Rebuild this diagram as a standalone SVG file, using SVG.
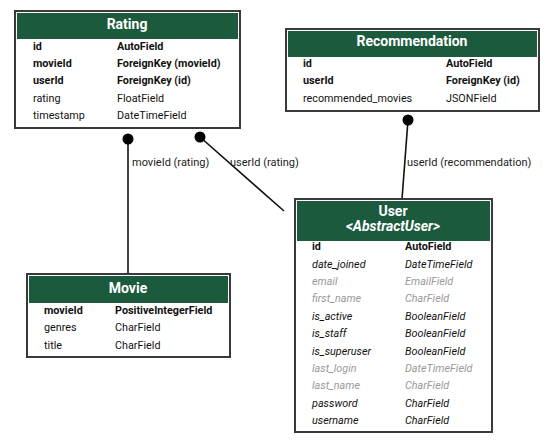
<svg xmlns="http://www.w3.org/2000/svg" width="555" height="443" viewBox="0 0 555 443">
<style>
.box{fill:#fff;stroke:#3a3a3a;stroke-width:2}
.hd{fill:#1c5a3e}
.ttl{font-family:Roboto,"Liberation Sans",sans-serif;font-size:14px;font-weight:bold;fill:#fff;text-anchor:middle}
.t{font-family:Roboto,"Liberation Sans",sans-serif;font-size:10.8px;fill:#111}
.b{font-weight:bold}
.i{font-style:italic}
.g{fill:#999}
.lbl{font-family:Roboto,"Liberation Sans",sans-serif;font-size:11px;fill:#222}
.ln{stroke:#111;stroke-width:1.6;fill:none}
</style>
<g id="connectors">
<line class="ln" x1="128" y1="139" x2="128" y2="273"/>
<circle cx="128" cy="139" r="5.5" fill="#000"/>
<text class="lbl" x="132" y="166">movieId (rating)</text>
<line class="ln" x1="200" y1="137" x2="284" y2="211"/>
<circle cx="200" cy="137" r="5.5" fill="#000"/>
<text class="lbl" x="230" y="166">userId (rating)</text>
<line class="ln" x1="408" y1="120" x2="402" y2="199"/>
<circle cx="408" cy="120" r="5.5" fill="#000"/>
<text class="lbl" x="407" y="166">userId (recommendation)</text>
</g>
<g id="Rating">
<rect class="box" x="15" y="11" width="225" height="117"/>
<rect class="hd" x="17" y="13" width="221" height="26"/>
<text class="ttl" x="127" y="29">Rating</text>
<text class="t b" x="33" y="50">id</text><text class="t b" x="117" y="50">AutoField</text>
<text class="t b" x="33" y="67">movieId</text><text class="t b" x="117" y="67">ForeignKey (movieId)</text>
<text class="t b" x="33" y="84">userId</text><text class="t b" x="117" y="84">ForeignKey (id)</text>
<text class="t" x="33" y="102">rating</text><text class="t" x="117" y="102">FloatField</text>
<text class="t" x="33" y="119">timestamp</text><text class="t" x="117" y="119">DateTimeField</text>
</g>
<g id="Recommendation">
<rect class="box" x="286" y="29" width="253" height="82"/>
<rect class="hd" x="288" y="31" width="249" height="26"/>
<text class="ttl" x="412" y="46">Recommendation</text>
<text class="t b" x="303" y="67">id</text><text class="t b" x="446" y="67">AutoField</text>
<text class="t b" x="303" y="84">userId</text><text class="t b" x="446" y="84">ForeignKey (id)</text>
<text class="t" x="303" y="102">recommended_movies</text><text class="t" x="446" y="102">JSONField</text>
</g>
<g id="Movie">
<rect class="box" x="27" y="274" width="203" height="83"/>
<rect class="hd" x="29" y="276" width="199" height="27"/>
<text class="ttl" x="128" y="293">Movie</text>
<text class="t b" x="44" y="314">movieId</text><text class="t b" x="115" y="314">PositiveIntegerField</text>
<text class="t" x="44" y="331">genres</text><text class="t" x="115" y="331">CharField</text>
<text class="t" x="44" y="349">title</text><text class="t" x="115" y="349">CharField</text>
</g>
<g id="User">
<rect class="box" x="295" y="199" width="197" height="233"/>
<rect class="hd" x="297" y="201" width="193" height="40"/>
<text class="ttl" x="393" y="216">User</text>
<text class="ttl i" x="393" y="231">&lt;AbstractUser&gt;</text>
<text class="t b" x="312" y="250">id</text><text class="t b" x="405" y="250">AutoField</text>
<text class="t i" x="312" y="268">date_joined</text><text class="t i" x="405" y="268">DateTimeField</text>
<text class="t i g" x="312" y="285">email</text><text class="t i g" x="405" y="285">EmailField</text>
<text class="t i g" x="312" y="302">first_name</text><text class="t i g" x="405" y="302">CharField</text>
<text class="t i" x="312" y="320">is_active</text><text class="t i" x="405" y="320">BooleanField</text>
<text class="t i" x="312" y="337">is_staff</text><text class="t i" x="405" y="337">BooleanField</text>
<text class="t i" x="312" y="355">is_superuser</text><text class="t i" x="405" y="355">BooleanField</text>
<text class="t i g" x="312" y="372">last_login</text><text class="t i g" x="405" y="372">DateTimeField</text>
<text class="t i g" x="312" y="389">last_name</text><text class="t i g" x="405" y="389">CharField</text>
<text class="t i" x="312" y="407">password</text><text class="t i" x="405" y="407">CharField</text>
<text class="t i" x="312" y="424">username</text><text class="t i" x="405" y="424">CharField</text>
</g>
</svg>
